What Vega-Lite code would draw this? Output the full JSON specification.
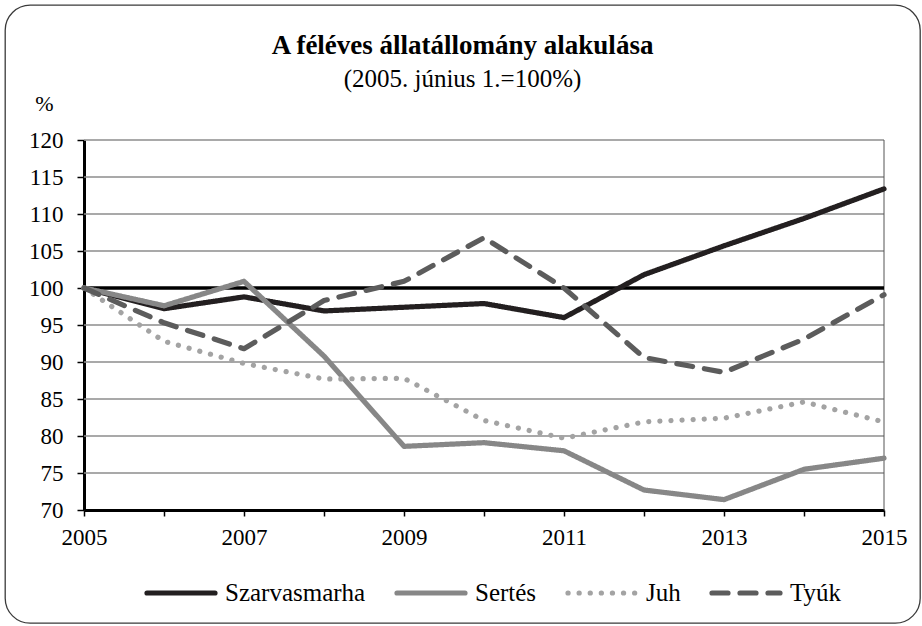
{
  "$schema": "https://vega.github.io/schema/vega-lite/v6.json",
  "width": 915,
  "height": 618,
  "autosize": {"type": "none"},
  "padding": {"left": 5, "top": 5, "right": 2, "bottom": 3},
  "background": "white",
  "config": {
    "view": {"stroke": "#3a3a3a", "strokeWidth": 1.3, "cornerRadius": 25, "fill": "white"},
    "font": "Liberation Serif"
  },
  "title": {
    "text": "A féléves állatállomány alakulása",
    "subtitle": "(2005. június 1.=100%)",
    "font": "Liberation Serif",
    "fontSize": 27,
    "fontWeight": "bold",
    "color": "#000000",
    "subtitleFont": "Liberation Serif",
    "subtitleFontSize": 25,
    "subtitleColor": "#000000",
    "subtitlePadding": 7,
    "anchor": "middle",
    "frame": "group",
    "offset": -88
  },
  "datasets": {
    "grid": [
      {"value": 75}, {"value": 80}, {"value": 85}, {"value": 90}, {"value": 95},
      {"value": 105}, {"value": 110}, {"value": 115}, {"value": 120}
    ],
    "series": [
      {"year": 2005, "series": "Szarvasmarha", "value": 100},
      {"year": 2006, "series": "Szarvasmarha", "value": 97.2},
      {"year": 2007, "series": "Szarvasmarha", "value": 98.8},
      {"year": 2008, "series": "Szarvasmarha", "value": 96.9},
      {"year": 2009, "series": "Szarvasmarha", "value": 97.4},
      {"year": 2010, "series": "Szarvasmarha", "value": 97.9},
      {"year": 2011, "series": "Szarvasmarha", "value": 96.0},
      {"year": 2012, "series": "Szarvasmarha", "value": 101.8},
      {"year": 2013, "series": "Szarvasmarha", "value": 105.7},
      {"year": 2014, "series": "Szarvasmarha", "value": 109.4},
      {"year": 2015, "series": "Szarvasmarha", "value": 113.4},
      {"year": 2005, "series": "Sertés", "value": 100},
      {"year": 2006, "series": "Sertés", "value": 97.6},
      {"year": 2007, "series": "Sertés", "value": 100.9},
      {"year": 2008, "series": "Sertés", "value": 90.8},
      {"year": 2009, "series": "Sertés", "value": 78.6},
      {"year": 2010, "series": "Sertés", "value": 79.1},
      {"year": 2011, "series": "Sertés", "value": 78.0},
      {"year": 2012, "series": "Sertés", "value": 72.7},
      {"year": 2013, "series": "Sertés", "value": 71.4},
      {"year": 2014, "series": "Sertés", "value": 75.5},
      {"year": 2015, "series": "Sertés", "value": 77.0},
      {"year": 2005, "series": "Juh", "value": 100},
      {"year": 2006, "series": "Juh", "value": 92.8},
      {"year": 2007, "series": "Juh", "value": 89.8},
      {"year": 2008, "series": "Juh", "value": 87.7},
      {"year": 2009, "series": "Juh", "value": 87.8},
      {"year": 2010, "series": "Juh", "value": 82.1},
      {"year": 2011, "series": "Juh", "value": 79.7},
      {"year": 2012, "series": "Juh", "value": 81.9},
      {"year": 2013, "series": "Juh", "value": 82.4},
      {"year": 2014, "series": "Juh", "value": 84.6},
      {"year": 2015, "series": "Juh", "value": 81.9},
      {"year": 2005, "series": "Tyúk", "value": 100},
      {"year": 2006, "series": "Tyúk", "value": 95.3},
      {"year": 2007, "series": "Tyúk", "value": 91.8},
      {"year": 2008, "series": "Tyúk", "value": 98.3},
      {"year": 2009, "series": "Tyúk", "value": 100.9},
      {"year": 2010, "series": "Tyúk", "value": 106.8},
      {"year": 2011, "series": "Tyúk", "value": 100.0},
      {"year": 2012, "series": "Tyúk", "value": 90.6},
      {"year": 2013, "series": "Tyúk", "value": 88.6},
      {"year": 2014, "series": "Tyúk", "value": 93.1},
      {"year": 2015, "series": "Tyúk", "value": 99.1}
    ]
  },
  "layer": [
    {
      "data": {"name": "grid"},
      "mark": {"type": "rule", "color": "#8c8c8c", "strokeWidth": 1.5},
      "encoding": {
        "y": {"field": "value", "type": "quantitative", "title": "%"},
        "x": {"datum": 2005, "type": "quantitative", "title": null},
        "x2": {"datum": 2015}
      }
    },
    {
      "data": {"values": [{}]},
      "mark": {"type": "rule", "color": "#555555", "strokeWidth": 1},
      "encoding": {
        "x": {"datum": 2015, "type": "quantitative", "title": null},
        "y": {"datum": 70, "type": "quantitative", "title": "%"},
        "y2": {"datum": 120}
      }
    },
    {
      "data": {"values": [{}]},
      "mark": {"type": "rule", "color": "#000000", "strokeWidth": 3.5},
      "encoding": {
        "y": {"datum": 100, "type": "quantitative", "title": "%"},
        "x": {"datum": 2005, "type": "quantitative", "title": null},
        "x2": {"datum": 2015}
      }
    },
    {
      "data": {"name": "series"},
      "mark": {"type": "line", "strokeWidth": 5.2, "strokeCap": "round", "strokeJoin": "round"},
      "encoding": {
        "x": {
          "field": "year",
          "type": "quantitative",
          "title": null,
          "scale": {"domain": [2005, 2015], "range": [79, 879], "nice": false, "zero": false},
          "axis": {
            "title": null,
            "orient": "bottom",
            "offset": -113,
            "values": [2005, 2006, 2007, 2008, 2009, 2010, 2011, 2012, 2013, 2014, 2015],
            "format": "d",
            "labelExpr": "datum.value % 2 == 1 ? datum.label : ''",
            "grid": false,
            "domainColor": "#000000",
            "domainWidth": 3,
            "tickColor": "#000000",
            "tickWidth": 1.5,
            "tickSize": 6,
            "labelFont": "Liberation Serif",
            "labelFontSize": 23,
            "labelColor": "#000000",
            "labelPadding": 10,
            "labelFlush": false,
            "labelOverlap": false
          }
        },
        "y": {
          "field": "value",
          "type": "quantitative",
          "title": "%",
          "scale": {"domain": [70, 120], "range": [505, 135], "nice": false, "zero": false},
          "axis": {
            "title": "%",
            "orient": "left",
            "offset": -79,
            "values": [70, 75, 80, 85, 90, 95, 100, 105, 110, 115, 120],
            "grid": false,
            "domainColor": "#000000",
            "domainWidth": 3,
            "tickColor": "#000000",
            "tickWidth": 1.5,
            "tickSize": 7,
            "labelFont": "Liberation Serif",
            "labelFontSize": 23,
            "labelColor": "#000000",
            "labelPadding": 14,
            "titleFont": "Liberation Serif",
            "titleFontSize": 22,
            "titleFontWeight": "normal",
            "titleColor": "#000000",
            "titleAngle": 0,
            "titleAlign": "center",
            "titleBaseline": "middle",
            "titleX": -40,
            "titleY": 98
          }
        },
        "color": {
          "field": "series",
          "type": "nominal",
          "scale": {
            "domain": ["Szarvasmarha", "Sertés", "Juh", "Tyúk"],
            "range": ["#231f20", "#878787", "#a3a3a3", "#5c5c5c"]
          },
          "legend": {
            "title": null,
            "orient": "none",
            "direction": "horizontal",
            "columns": 4,
            "legendX": 139,
            "legendY": 551,
            "padding": 0,
            "symbolType": "stroke",
            "symbolSize": 4624,
            "symbolStrokeWidth": 5.2,
            "labelFont": "Liberation Serif",
            "labelFontSize": 25,
            "labelColor": "#000000",
            "labelOffset": 7,
            "columnPadding": 20,
            "labelLimit": 300,
            "encode": {"symbols": {"update": {"strokeCap": {"value": "round"}}}}
          }
        },
        "strokeDash": {
          "field": "series",
          "type": "nominal",
          "scale": {
            "domain": ["Szarvasmarha", "Sertés", "Juh", "Tyúk"],
            "range": [[1, 0], [1, 0], [0.1, 11], [16, 12]]
          },
          "legend": {
            "title": null,
            "orient": "none",
            "direction": "horizontal",
            "columns": 4,
            "legendX": 139,
            "legendY": 551,
            "padding": 0,
            "symbolType": "stroke",
            "symbolSize": 4624,
            "symbolStrokeWidth": 5.2,
            "labelFont": "Liberation Serif",
            "labelFontSize": 25,
            "labelColor": "#000000",
            "labelOffset": 7,
            "columnPadding": 20,
            "labelLimit": 300,
            "encode": {"symbols": {"update": {"strokeCap": {"value": "round"}}}}
          }
        }
      }
    }
  ]
}
